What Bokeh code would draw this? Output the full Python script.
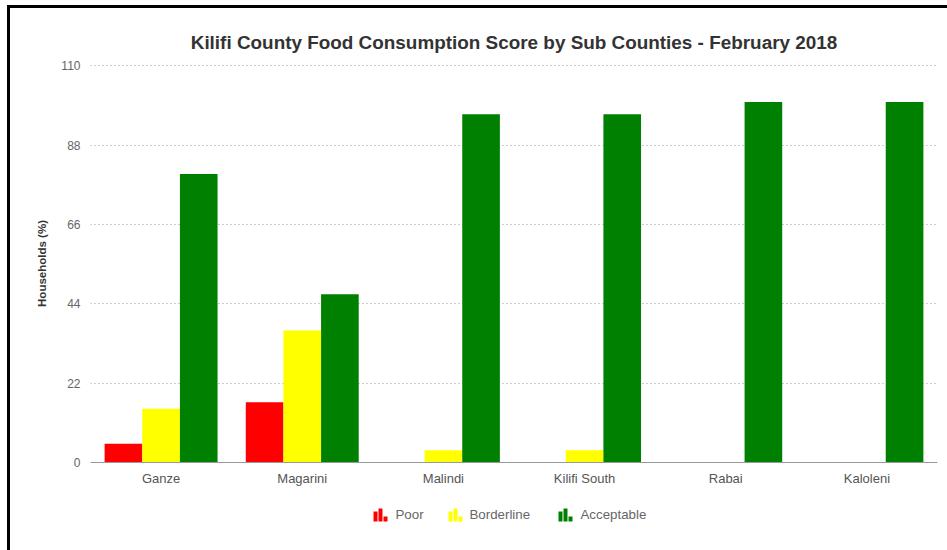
from bokeh.plotting import figure
from bokeh.models import FactorRange, Range1d, FixedTicker, ColumnDataSource
from bokeh.layouts import column
from bokeh.core.properties import value
from bokeh.transform import dodge
from bokeh.embed import file_html
from bokeh.resources import INLINE

# ---- data ----
sub_counties = ["Ganze", "Magarini", "Malindi", "Kilifi South", "Rabai", "Kaloleni"]
poor = [5.2, 16.7, 0, 0, 0, 0]
borderline = [14.9, 36.6, 3.4, 3.4, 0, 0]
acceptable = [80.0, 46.7, 96.6, 96.6, 100, 100]
series_names = ["Poor", "Borderline", "Acceptable"]
series_colors = ["#ff0000", "#ffff00", "#008000"]
y_ticks = [0, 22, 44, 66, 88, 110]

source = ColumnDataSource(dict(cat=sub_counties, Poor=poor, Borderline=borderline,
                               Acceptable=acceptable))

FONT = "Liberation Sans"
OX, OY = 10, 8            # content origin inside the black border
MW, MH = 947 - OX, 500 - OY  # main figure size
LH = 50                   # legend strip height
FRAME_L, FRAME_R = 90, 937

p = figure(width=MW, height=MH, x_range=FactorRange(factors=sub_counties, range_padding=0),
           y_range=Range1d(0, 110.4), output_backend="svg", toolbar_location=None,
           min_border_left=FRAME_L - OX, min_border_right=947 - FRAME_R, min_border_top=64 - OY,
           min_border_bottom=500 - 462)

bw = 0.8 / 3
for i, (name, col) in enumerate(zip(series_names, series_colors)):
    p.vbar(x=dodge("cat", (i - 1) * bw, range=p.x_range), top=name, width=bw,
           source=source, fill_color=col, line_color=None)

p.outline_line_color = None
p.background_fill_color = "white"
p.border_fill_color = "white"

# title
p.title.text = "Kilifi County Food Consumption Score by Sub Counties - February 2018"
p.title.align = "center"
p.title.text_font = FONT
p.title.text_font_size = "18.9px"
p.title.text_font_style = "bold"
p.title.text_color = "#333333"
p.title.standoff = 23

# grids
p.xgrid.grid_line_color = None
p.ygrid.grid_line_color = "#9a9a9a"
p.ygrid.grid_line_dash = "1 3"
p.ygrid.grid_line_width = 1

# y axis
p.yaxis.ticker = FixedTicker(ticks=y_ticks)
p.yaxis.axis_line_color = None
p.yaxis.major_tick_line_color = None
p.yaxis.minor_tick_line_color = None
p.yaxis.major_label_text_font = FONT
p.yaxis.major_label_text_font_size = "12px"
p.yaxis.major_label_text_color = "#666666"
p.yaxis.major_label_standoff = 4
p.yaxis.axis_label = "Households (%)"
p.yaxis.axis_label_text_font = FONT
p.yaxis.axis_label_text_font_size = "11.5px"
p.yaxis.axis_label_text_font_style = "bold"
p.yaxis.axis_label_text_color = "#333333"
p.yaxis.axis_label_standoff = 10

# x axis
p.xaxis.axis_line_color = "#999999"
p.xaxis.major_tick_line_color = None
p.xaxis.minor_tick_line_color = None
p.xaxis.major_tick_out = 0
p.xaxis.major_label_text_font = FONT
p.xaxis.major_label_text_font_size = "13px"
p.xaxis.major_label_text_color = "#555555"
p.xaxis.major_label_standoff = 8

# ---- legend strip (pixel coordinate space, frame aligned with the main frame) ----
leg = figure(width=MW, height=LH, x_range=Range1d(FRAME_L, FRAME_R), y_range=Range1d(LH, 0),
             output_backend="svg", toolbar_location=None, x_axis_location=None,
             y_axis_location=None, min_border=0)
leg.outline_line_color = None
leg.grid.grid_line_color = None

legend_icon_x = [373, 448, 558]
legend_text_x = [395, 469, 580]
icon_bottom, text_mid = 21, 14
bar_heights = [10, 13, 5]
for ix, tx, name, col in zip(legend_icon_x, legend_text_x, series_names, series_colors):
    lefts = [ix + k * 5 for k in range(3)]
    leg.quad(left=lefts, right=[l + 4 for l in lefts],
             top=[icon_bottom - h for h in bar_heights], bottom=[icon_bottom] * 3,
             fill_color=col, line_color=None)
    leg.text(x=[tx], y=[text_mid], text=[name], text_font=value(FONT),
             text_font_size="13.3px", text_color="#666666", text_baseline="middle",
             text_align="left")

root = column(p, leg, spacing=0, margin=(5, 0, 0, 7),
              styles={"border-top": "3px solid black", "border-left": "3px solid black"})

open("out.html", "w").write(file_html(root, INLINE))
